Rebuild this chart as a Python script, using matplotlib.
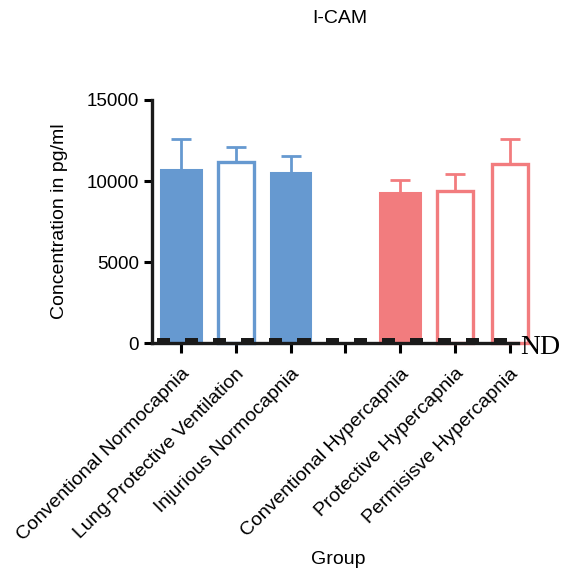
import numpy as np
import matplotlib
matplotlib.use("Agg")
import matplotlib.pyplot as plt

plt.rcParams['font.family'] = ['Liberation Sans', 'DejaVu Sans']

# groups (the empty slot separates normocapnia from hypercapnia)
groups = ['Conventional Normocapnia', 'Lung-Protective Ventilation', 'Injurious Normocapnia', '',
          'Conventional Hypercapnia', 'Protective Hypercapnia', 'Permisisve Hypercapnia']
means = [10680, 11190, 10510, np.nan, 9240, 9400, 11030]
sems = [1890, 890, 1030, 0, 820, 1010, 1540]
filled = [True, False, True, None, True, False, False]

blue = '#6699d0'
red = '#f27c7e'
colors = [blue, blue, blue, None, red, red, red]

fig = plt.figure(figsize=(5.76, 5.77), dpi=100)
ax = fig.add_axes([0.264, 0.4055, 0.635, 0.4212])

x = np.arange(len(groups))
for i in range(len(groups)):
    if np.isnan(means[i]):
        continue
    c = colors[i]
    if filled[i]:
        ax.bar(x[i], means[i], width=0.72, color=c, edgecolor=c, linewidth=2.2,
               zorder=2, clip_on=False)
    else:
        ax.bar(x[i], means[i], width=0.66, facecolor='white', edgecolor=c, linewidth=2.4,
               zorder=2, clip_on=False)
    ax.errorbar(x[i], means[i], yerr=[[0], [sems[i]]], color=c, elinewidth=2,
                capsize=7, capthick=2, zorder=1, clip_on=False)

# ND markers along the baseline
nd_start = -0.44
nd_step = 0.513
nd_x = nd_start + nd_step * np.arange(13)
ax.broken_barh([(s, 0.24) for s in nd_x], (0, 300), facecolors='#1a1a1a', zorder=3)
ax.text(6.2, -250, 'ND', family='Liberation Serif', fontsize=20, va='center', ha='left',
        clip_on=False)

ax.set_xlim(-0.53, 6.15)
ax.set_ylim(0, 15000)
ax.set_yticks([0, 5000, 10000, 15000])
ax.set_xticks(x)
ax.set_xticklabels(groups, rotation=45, ha='right', rotation_mode='anchor', fontsize=14)
ax.tick_params(axis='y', labelsize=13.5, width=2.2, length=6)
ax.tick_params(axis='x', width=2.2, length=7, pad=9)

for s in ['top', 'right']:
    ax.spines[s].set_visible(False)
for s in ['left', 'bottom']:
    ax.spines[s].set_linewidth(2.4)
    ax.spines[s].set_color('#1a1a1a')

ax.set_ylabel('Concentration in pg/ml', fontsize=14, labelpad=13)
fig.text(0.59, 0.968, 'I-CAM', fontsize=14, ha='center', va='center')
fig.text(0.587, 0.03, 'Group', fontsize=14, ha='center', va='center')

fig.savefig('out.png', dpi=100)
